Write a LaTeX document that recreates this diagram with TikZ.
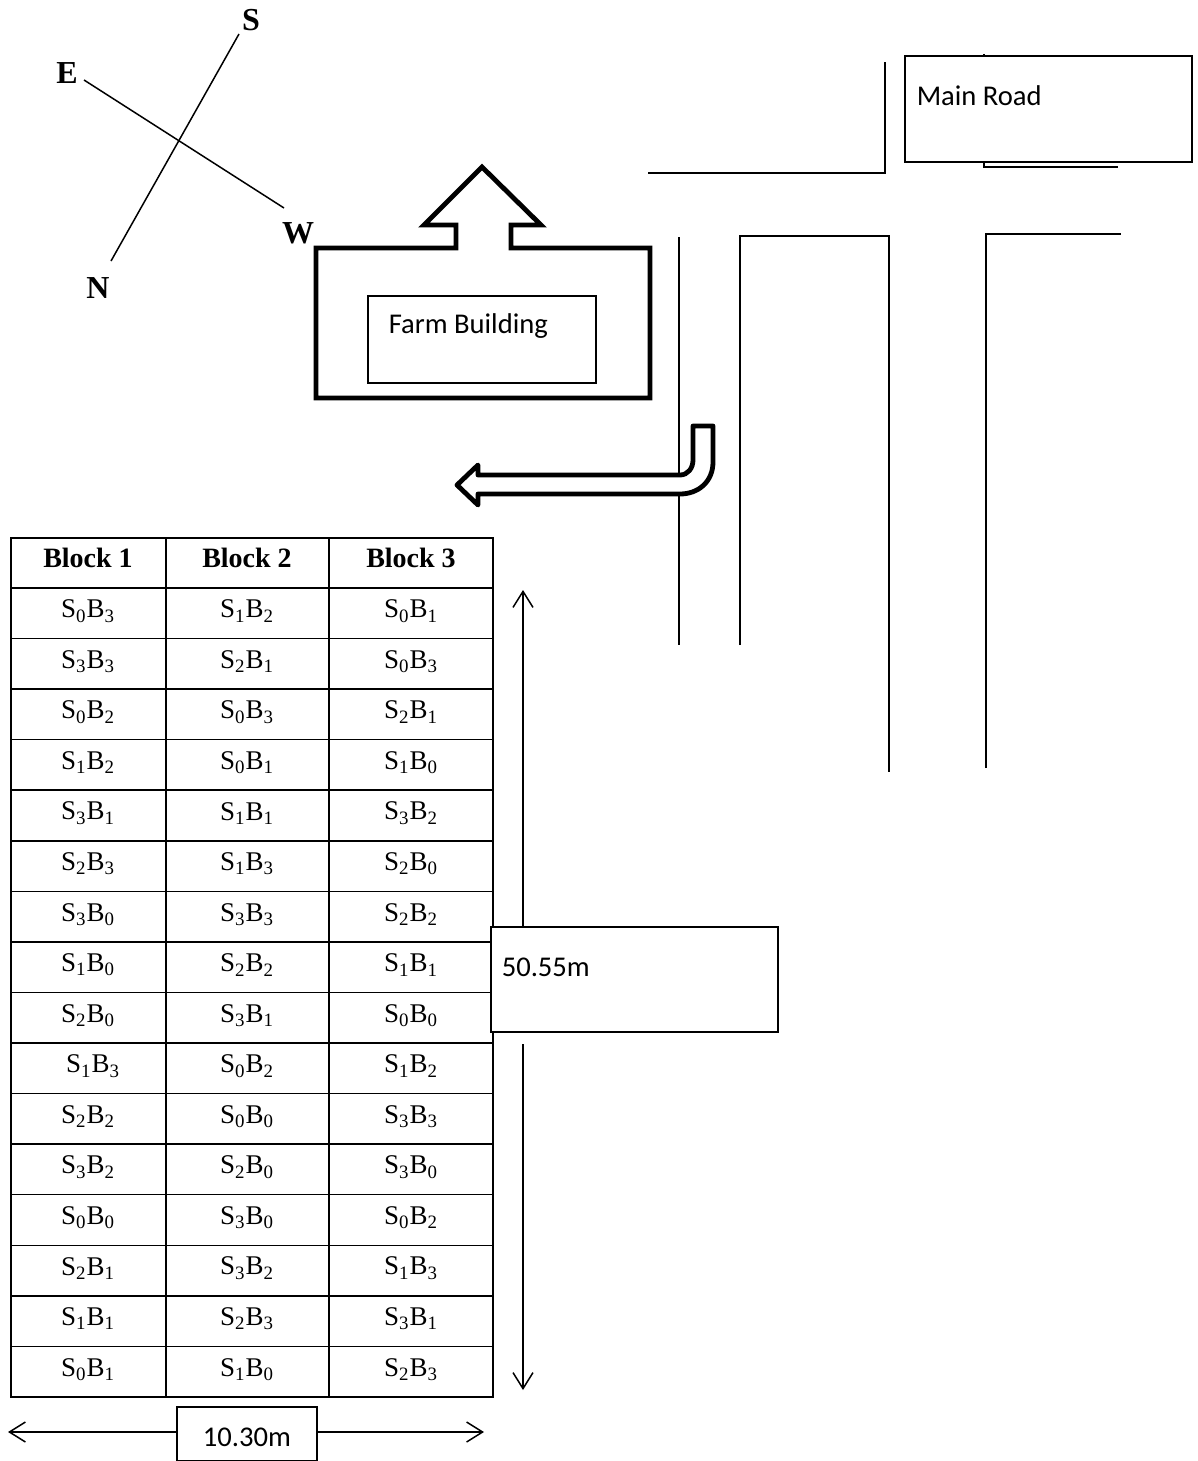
\documentclass[tikz,border=0pt]{standalone}
\usepackage{fontspec}
\setmainfont{Liberation Serif}
\newfontfamily\labelfont{Carlito}
\usetikzlibrary{arrows.meta}
\newcommand\SBx[2]{S\textsubscript{#1}B\textsubscript{#2}}
\tikzset{
  layout/.style={x=0.5pt,y=-0.5pt,line width=0.75pt,>={Straight Barb[length=8pt,width=10pt]}},
  thickline/.style={line width=2.4pt,line join=miter},
  plotcell/.style={inner sep=0pt,font=\fontsize{13.5}{15}\selectfont},
  headcell/.style={inner sep=0pt,font=\fontsize{14}{16}\selectfont\bfseries},
  compasslabel/.style={inner sep=0pt,font=\fontsize{16}{18}\selectfont\bfseries},
  boxtext/.style={inner sep=0pt,anchor=west,font=\fontsize{14.3}{17}\selectfont\labelfont},
  infobox/.style={draw,fill=white,inner sep=0pt}
}

\begin{document}
\begin{tikzpicture}[layout]
    \useasboundingbox (0,0) rectangle (1198,1461);
    % compass
    \node[compasslabel] (south) at (251,20) {S};
    \node[compasslabel] (east) at (67,73) {E};
    \node[compasslabel] (west) at (298,233) {W};
    \node[compasslabel] (north) at (98,288) {N};
    \coordinate (sline) at (239,34);
    \coordinate (nline) at (111,261);
    \coordinate (eline) at (84,80);
    \coordinate (wline) at (284,208);
    \draw (sline) -- (nline);
    \draw (eline) -- (wline);
    % roads
    \draw (648,173) -- (885,173) -- (885,62);
    \draw (984,54) -- (984,167) -- (1118,167);
    \node[infobox,minimum width=143.5pt,minimum height=53pt] (roadbox) at (1048.5,109) {};
    \node[boxtext] (roadtext) at (916,96) {Main Road};
    \draw (679,237) -- (679,645);
    \draw (740,645) -- (740,236) -- (889,236) -- (889,772);
    \draw (986,768) -- (986,234) -- (1121,234);
    % farm building
    \draw[thickline] (316,248) -- (456,248) -- (456,225) -- (424,225) -- (482,167)
      -- (541,225) -- (511,225) -- (511,248) -- (650,248) -- (650,398) -- (316,398) -- cycle;
    \node[infobox,minimum width=114pt,minimum height=43.5pt] (farmbox) at (482,339.5) {};
    \node[boxtext] (farmtext) at (388,326) {Farm Building};
    % bent arrow
    \draw[thickline,fill=white,line join=round] (457,485) -- (478,465) -- (478,475) -- (680,475)
      .. controls (688,475) and (693,468) .. (693,460) -- (693,426) -- (713,426) -- (713,462)
      .. controls (713,482) and (698,494) .. (680,494) -- (478,494) -- (478,505) -- cycle;
    % plot table
    \draw (11,538) rectangle (493,1397);
    \foreach \x in {166,329} \draw (\x,538) -- (\x,1397);
    \foreach \r in {0,...,15} \draw (11,{588+50.56*\r}) -- (493,{588+50.56*\r});
    \node[headcell] (head1) at (88,558) {Block 1};
    \node[headcell] (head2) at (247,558) {Block 2};
    \node[headcell] (head3) at (411,558) {Block 3};
    \foreach \a/\b/\c [count=\r from 0] in {03/12/01,33/21/03,02/03/21,12/01/10,
      31/11/32,23/13/20,30/33/22,10/22/11,20/31/00,13/02/12,22/00/33,32/20/30,
      00/30/02,21/32/13,11/23/31,01/10/23} {
      \node[plotcell,xshift={(\r==9)*2.5pt}] (a\r) at (88,{611+50.56*\r}) {\expandafter\SBx\a};
      \node[plotcell] (b\r) at (247,{611+50.56*\r}) {\expandafter\SBx\b};
      \node[plotcell] (c\r) at (411,{611+50.56*\r}) {\expandafter\SBx\c};
    }
    % dimensions
    \node[infobox,minimum width=143.5pt,minimum height=52.5pt] (lengthbox) at (634.5,979.5) {};
    \node[boxtext] (lengthtext) at (501,967) {50.55m};
    \coordinate (lengthtop) at (523,590);
    \coordinate (lengthgap) at (523,1044);
    \coordinate (lengthend) at (523,1390);
    \draw[->] (lengthtop |- lengthbox.north) -- (lengthtop);
    \draw[->] (lengthgap) -- (lengthend);
    \node[infobox,minimum width=70pt,minimum height=27pt] (widthbox) at (247,1434) {};
    \node[boxtext,anchor=center] (widthtext) at (247,1437) {10.30m};
    \coordinate (widthleft) at (8,1432);
    \coordinate (widthright) at (484,1432);
    \draw[->] (widthleft -| widthbox.west) -- (widthleft);
    \draw[->] (widthright -| widthbox.east) -- (widthright);
  \end{tikzpicture}
\end{document}
